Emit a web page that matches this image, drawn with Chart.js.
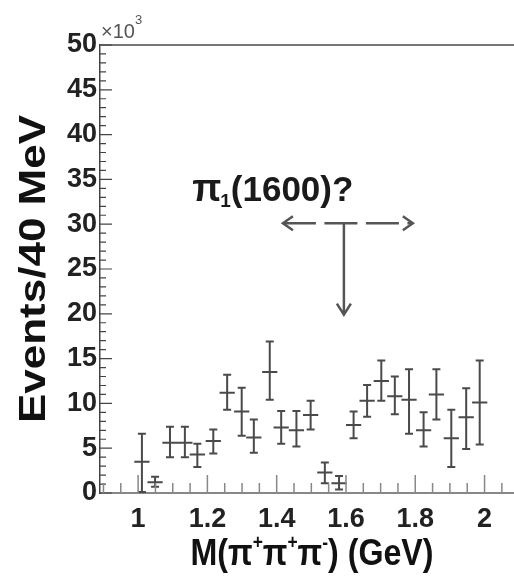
<!DOCTYPE html>
<html>
<head>
<meta charset="utf-8">
<script src="https://cdn.jsdelivr.net/npm/chart.js@4.4.1/dist/chart.umd.min.js"></script>
<style>
  body { margin: 0; background: #fff; }
  canvas { display: block; }
</style>
</head>
<body>
<canvas id="c" width="514" height="578"></canvas>
<script>
// bin centres (GeV) and counts (x10^3 events / 40 MeV)
var mass = [1.011, 1.049, 1.092, 1.135, 1.171, 1.217, 1.257, 1.299, 1.334, 1.380,
            1.413, 1.457, 1.498, 1.539, 1.580, 1.622, 1.661, 1.702, 1.741, 1.782,
            1.824, 1.861, 1.904, 1.947, 1.986];
var counts = [3.5, 1.2, 5.6, 5.6, 4.3, 5.8, 11.2, 9.1, 6.2, 13.5,
              7.3, 7.0, 8.7, 2.3, 1.1, 7.6, 10.3, 12.5, 10.8, 10.4,
              7.0, 11.0, 6.1, 8.45, 10.1];
var errHigh = [6.6, 1.8, 7.4, 7.4, 5.5, 7.1, 13.2, 11.75, 8.2, 16.9,
               9.15, 9.15, 10.3, 3.4, 1.9, 9.1, 12.05, 14.8, 13.0, 13.8,
               9.0, 13.8, 9.3, 11.7, 14.8];
var errLow = [0.1, 0.7, 4.0, 4.0, 2.9, 4.4, 9.3, 6.4, 4.5, 10.4,
              5.5, 5.2, 7.1, 1.1, 0.4, 6.1, 8.5, 10.3, 8.8, 6.6,
              5.2, 8.2, 2.9, 4.9, 5.4];
var binHalf = 0.022;

var xTicks = [1, 1.2, 1.4, 1.6, 1.8, 2];
var yTicks = [0, 5, 10, 15, 20, 25, 30, 35, 40, 45, 50];

// annotation: pi_1(1600)? with the arrows
var noteText = {x: 1.156, y: 32.6};
var noteArrow = {x: 1.594, y: 30.1, yEnd: 19.9, xLeft: 1.418, xRight: 1.793};

var FAM = "'Liberation Sans', Arial, sans-serif";

var errorBars = {
  id: "errorBars",
  afterDatasetsDraw: function(chart) {
    var ctx = chart.ctx, x = chart.scales.x, y = chart.scales.y;
    ctx.save();
    ctx.strokeStyle = "#4a4a4a";
    ctx.lineWidth = 2;
    for (var i = 0; i < mass.length; i++) {
      var px = x.getPixelForValue(mass[i]);
      var py = y.getPixelForValue(counts[i]);
      var top = y.getPixelForValue(errHigh[i]);
      var bot = y.getPixelForValue(errLow[i]);
      var l = x.getPixelForValue(mass[i] - binHalf);
      var r = x.getPixelForValue(mass[i] + binHalf);
      ctx.beginPath();
      ctx.moveTo(px, top); ctx.lineTo(px, bot);
      ctx.moveTo(l, py); ctx.lineTo(r, py);
      ctx.moveTo(px - 4, top); ctx.lineTo(px + 4, top);
      ctx.moveTo(px - 4, bot); ctx.lineTo(px + 4, bot);
      ctx.stroke();
    }
    ctx.restore();
  }
};

// draws a list of [text, fontSize, dy] pieces, stretched to a given width
function drawPieces(ctx, pieces, weight, cx, cy, angle, targetW) {
  var w = 0;
  pieces.forEach(function(p){
    ctx.font = weight + " " + p[1] + "px " + FAM;
    w += ctx.measureText(p[0]).width;
  });
  ctx.save();
  ctx.translate(cx, cy);
  ctx.rotate(angle);
  ctx.scale(targetW / w, 1);
  var pos = -w / 2;
  ctx.textBaseline = "alphabetic";
  ctx.textAlign = "left";
  pieces.forEach(function(p){
    ctx.font = weight + " " + p[1] + "px " + FAM;
    ctx.fillText(p[0], pos, p[2]);
    pos += ctx.measureText(p[0]).width;
  });
  ctx.restore();
}

var decor = {
  id: "decor",
  afterDraw: function(chart) {
    var ctx = chart.ctx, x = chart.scales.x, y = chart.scales.y, a = chart.chartArea;
    var v, p;
    ctx.save();

    // top frame
    ctx.strokeStyle = "#777";
    ctx.lineWidth = 2;
    ctx.beginPath(); ctx.moveTo(a.left, a.top); ctx.lineTo(a.right, a.top); ctx.stroke();

    // y ticks, pointing inward
    ctx.strokeStyle = "#444";
    ctx.lineWidth = 1.2;
    ctx.beginPath();
    for (v = 0; v <= 50; v++) {
      p = y.getPixelForValue(v);
      ctx.moveTo(a.left, p); ctx.lineTo(a.left + (v % 5 === 0 ? 12 : 6), p);
    }
    ctx.stroke();

    // x ticks, pointing up
    ctx.strokeStyle = "#888";
    ctx.lineWidth = 1.5;
    ctx.beginPath();
    for (var k = 18; k <= 41; k++) {
      v = k * 0.05;
      p = x.getPixelForValue(v);
      if (p < a.left + 2 || p > a.right) continue;
      ctx.moveTo(p, a.bottom); ctx.lineTo(p, a.bottom - (k % 4 === 0 ? 18 : 10));
    }
    ctx.stroke();

    // x10^3
    ctx.fillStyle = "#555";
    ctx.textBaseline = "alphabetic";
    ctx.textAlign = "left";
    ctx.font = "20px " + FAM;
    ctx.fillText("\u00d710", a.left + 1, 38);
    var w = ctx.measureText("\u00d710").width;
    ctx.font = "13px " + FAM;
    ctx.fillText("3", a.left + 1 + w, 24);

    // axis titles
    ctx.fillStyle = "#111";
    drawPieces(ctx, [["Events/40 MeV", 37, 0]], "bold", 45, 269, -Math.PI / 2, 308);
    drawPieces(ctx, [["M(\u03c0", 37, 0], ["+", 20, -16], ["\u03c0", 37, 0], ["+", 20, -16],
                     ["\u03c0", 37, 0], ["-", 20, -16], [") (GeV)", 37, 0]],
               "bold", 312, 565, 0, 243);

    // annotation text
    ctx.fillStyle = "#1a1a1a";
    var tx = x.getPixelForValue(noteText.x), ty = y.getPixelForValue(noteText.y);
    ctx.textAlign = "left";
    ctx.font = "bold 38px " + FAM;
    ctx.fillText("\u03c0", tx, ty);
    var pw = ctx.measureText("\u03c0").width;
    ctx.font = "bold 19px " + FAM;
    ctx.fillText("1", tx + pw - 1, ty + 6);
    var sw = ctx.measureText("1").width;
    ctx.font = "bold 35px " + FAM;
    ctx.fillText("(1600)?", tx + pw + sw - 1, ty);

    // arrows
    var ax = x.getPixelForValue(noteArrow.x), ay = y.getPixelForValue(noteArrow.y);
    var ae = y.getPixelForValue(noteArrow.yEnd);
    var al = x.getPixelForValue(noteArrow.xLeft), ar = x.getPixelForValue(noteArrow.xRight);
    ctx.strokeStyle = "#555";
    ctx.lineWidth = 2.5;
    ctx.setLineDash([33, 8.5]);
    ctx.beginPath(); ctx.moveTo(al, ay); ctx.lineTo(ar, ay); ctx.stroke();
    ctx.setLineDash([]);
    ctx.beginPath();
    ctx.moveTo(al + 10, ay - 7); ctx.lineTo(al, ay); ctx.lineTo(al + 10, ay + 7);
    ctx.moveTo(ar - 10, ay - 7); ctx.lineTo(ar, ay); ctx.lineTo(ar - 10, ay + 7);
    ctx.moveTo(ax, ay); ctx.lineTo(ax, ae);
    ctx.moveTo(ax - 7, ae - 11); ctx.lineTo(ax, ae); ctx.lineTo(ax + 7, ae - 11);
    ctx.stroke();

    ctx.restore();
  }
};

new Chart(document.getElementById("c"), {
  type: "scatter",
  data: {
    datasets: [{
      data: mass.map(function(m, i){ return {x: m, y: counts[i]}; }),
      pointRadius: 0,
      showLine: false
    }]
  },
  options: {
    responsive: false,
    animation: false,
    devicePixelRatio: 1,
    layout: {padding: {top: 45, left: 0, right: 0, bottom: 0}},
    plugins: {legend: {display: false}, tooltip: {enabled: false}},
    scales: {
      x: {
        type: "linear",
        min: 0.89,
        max: 2.085,
        afterBuildTicks: function(s){ s.ticks = xTicks.map(function(v){ return {value: v}; }); },
        afterFit: function(s){ s.height = 85; },
        grid: {display: false, drawTicks: false},
        border: {display: true, color: "#888", width: 2},
        ticks: {
          font: {size: 27, family: FAM, weight: "bold"},
          color: "#222",
          padding: 10,
          maxRotation: 0,
          autoSkip: false,
          callback: function(v){ return String(v); }
        }
      },
      y: {
        min: 0,
        max: 50,
        afterBuildTicks: function(s){ s.ticks = yTicks.map(function(v){ return {value: v}; }); },
        afterFit: function(s){ s.width = 100; },
        grid: {display: false, drawTicks: false},
        border: {display: true, color: "#444", width: 1.5},
        ticks: {
          font: {size: 27, family: FAM, weight: "bold"},
          color: "#222",
          padding: 3,
          autoSkip: false
        }
      }
    }
  },
  plugins: [errorBars, decor]
});
</script>
</body>
</html>
